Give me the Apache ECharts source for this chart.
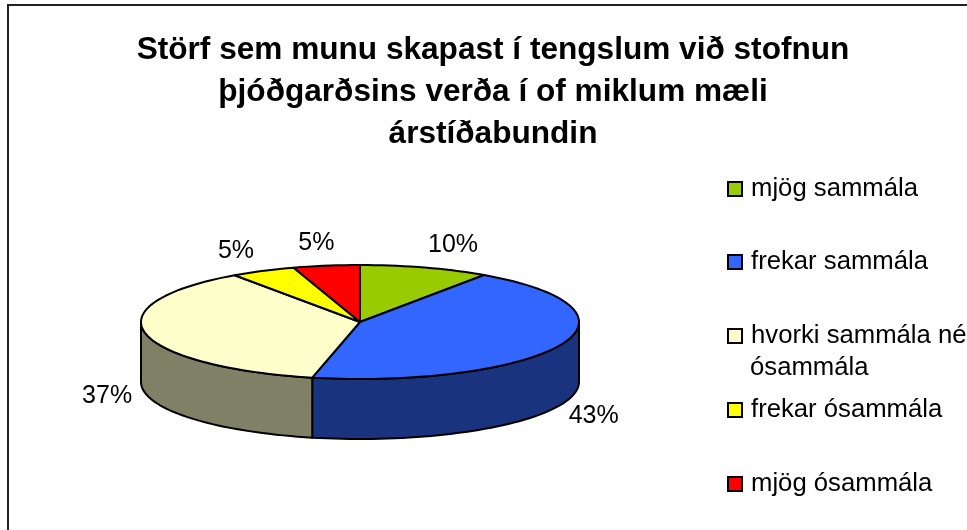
<!DOCTYPE html>
<html>
<head>
<meta charset="utf-8">
<style>html,body{margin:0;padding:0;background:#fff}#c{width:967px;height:530px}</style>
<script src="https://cdn.jsdelivr.net/npm/echarts@6/dist/echarts.min.js"></script>
</head>
<body>
<div id="c"></div>
<script>
var titleText = 'Störf sem munu skapast í tengslum við stofnun\nþjóðgarðsins verða í of miklum mæli\nárstíðabundin';
var categories = ['mjög sammála', 'frekar sammála', 'hvorki sammála né', 'frekar ósammála', 'mjög ósammála'];
var categoryContinuation = 'ósammála';
var values = [9.6, 43.9, 36.8, 4.8, 4.9];
var percentLabels = ['10%', '43%', '37%', '5%', '5%'];
var topColors = ['#99CC00', '#3366FF', '#FFFFCC', '#FFFF00', '#FF0000'];
var sideColors = ['#4D6600', '#1A337F', '#808066', '#808000', '#800000'];

var FONT = '"Liberation Sans", Arial, sans-serif';
var pie = { cx: 360, cy: 322, rx: 219, ry: 57, depth: 60 };
var labelOffsets = [[28, -22], [33, 71], [-38, 63], [-27, -20], [-10, -23]];
var legendTops = [176, 249, 323, 397, 471];

var total = values.reduce(function (a, b) { return a + b; }, 0);
function startAngle(i) {
  var s = 0;
  for (var k = 0; k < i; k++) s += values[k];
  return s / total * 360;
}
function pt(deg, dy) {
  var t = deg * Math.PI / 180;
  return [pie.cx + pie.rx * Math.sin(t), pie.cy - pie.ry * Math.cos(t) + (dy || 0)];
}
function arc(a, b, dy) {
  var out = [], n = Math.max(2, Math.ceil(Math.abs(b - a) / 2));
  for (var i = 0; i <= n; i++) out.push(pt(a + (b - a) * i / n, dy));
  return out;
}
var stroke = { stroke: '#000', lineWidth: 2, lineJoin: 'round' };

function sideRenderer(i) {
  return function (params, api) {
    var a = startAngle(i), b = a + api.value(0) / total * 360;
    var from = Math.max(a, 90), to = Math.min(b, 270);
    if (to <= from) return { type: 'group', children: [] };
    var pts = arc(from, to, 0).concat(arc(to, from, pie.depth));
    return { type: 'polygon', shape: { points: pts },
      style: Object.assign({ fill: sideColors[i] }, stroke) };
  };
}
function topRenderer(i) {
  return function (params, api) {
    var a = startAngle(i), b = a + api.value(0) / total * 360, mid = (a + b) / 2;
    var anchor = pt(mid, 0);
    return { type: 'group', children: [
      { type: 'polygon', shape: { points: [[pie.cx, pie.cy]].concat(arc(a, b, 0)) },
        style: Object.assign({ fill: topColors[i] }, stroke) },
      { type: 'text', z2: 10, style: {
          x: anchor[0] + labelOffsets[i][0], y: anchor[1] + labelOffsets[i][1],
          text: percentLabels[i], fill: '#000', font: '25px ' + FONT,
          align: 'center', verticalAlign: 'middle' } }
    ] };
  };
}

var series = [];
categories.forEach(function (name, i) {
  series.push({ type: 'custom', name: name, coordinateSystem: 'none', silent: true, animation: false, z: 2,
    itemStyle: { color: topColors[i] }, data: [[values[i]]], renderItem: sideRenderer(i) });
});
categories.forEach(function (name, i) {
  series.push({ type: 'custom', name: name, coordinateSystem: 'none', silent: true, animation: false, z: 3,
    itemStyle: { color: topColors[i] }, data: [[values[i]]], renderItem: topRenderer(i) });
});

var option = {
  backgroundColor: '#fff',
  animation: false,
  title: { text: titleText, left: 488, top: 24, textAlign: 'center',
    textStyle: { fontFamily: FONT, fontWeight: 'bold', fontSize: 31.6, lineHeight: 42, color: '#000' } },
  legend: categories.map(function (name, i) {
    return { data: [name], left: 727, top: legendTops[i], selectedMode: false, icon: 'rect',
      itemWidth: 14, itemHeight: 14, itemGap: 0, padding: 0,
      itemStyle: { borderColor: '#000', borderWidth: 2 },
      textStyle: { fontFamily: FONT, fontSize: 25.7, color: '#000', padding: [0, 0, 0, 4] } };
  }),
  graphic: [
    { type: 'polyline', silent: true, shape: { points: [[8, 530], [8, 5], [967, 5]] },
      style: { stroke: '#222', lineWidth: 2, fill: null } },
    { type: 'text', silent: true, style: { x: 750, y: 368, text: categoryContinuation, fill: '#000',
      font: '25.7px ' + FONT, verticalAlign: 'middle' } }
  ],
  series: series
};
echarts.init(document.getElementById('c')).setOption(option);
</script>
</body>
</html>
